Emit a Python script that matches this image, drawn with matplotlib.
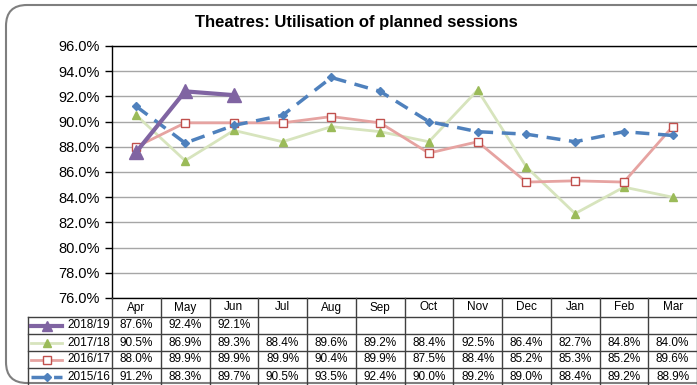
import matplotlib
matplotlib.use("Agg")
import matplotlib.pyplot as plt
from matplotlib.patches import FancyBboxPatch
from matplotlib.lines import Line2D
import matplotlib.transforms as mtransforms

months = ["Apr", "May", "Jun", "Jul", "Aug", "Sep", "Oct", "Nov", "Dec", "Jan", "Feb", "Mar"]
fy_2018_19 = [87.6, 92.4, 92.1]
fy_2017_18 = [90.5, 86.9, 89.3, 88.4, 89.6, 89.2, 88.4, 92.5, 86.4, 82.7, 84.8, 84.0]
fy_2016_17 = [88.0, 89.9, 89.9, 89.9, 90.4, 89.9, 87.5, 88.4, 85.2, 85.3, 85.2, 89.6]
fy_2015_16 = [91.2, 88.3, 89.7, 90.5, 93.5, 92.4, 90.0, 89.2, 89.0, 88.4, 89.2, 88.9]
series_names = ["2018/19", "2017/18", "2016/17", "2015/16"]
yticks = [76, 78, 80, 82, 84, 86, 88, 90, 92, 94, 96]

W, H = 697, 385
fig = plt.figure(figsize=(W / 100, H / 100), dpi=100)
plt.rcParams["font.family"] = ["Liberation Sans", "DejaVu Sans"]

def fx(px):
    return px / W

def fy(py):
    return 1 - py / H

# rounded chart frame
frame = FancyBboxPatch((fx(6), fy(383)), fx(760) - fx(6), fy(5) - fy(383),
                       boxstyle="round,pad=0,rounding_size=0.03",
                       transform=fig.transFigure, fill=False,
                       edgecolor="#7f7f7f", linewidth=1.5, mutation_aspect=W / H)
fig.patches.append(frame)

ax_left, ax_top, ax_bottom = 112, 46, 298
ax = fig.add_axes([fx(ax_left), fy(ax_bottom), 1 - fx(ax_left), fy(ax_top) - fy(ax_bottom)])
x = list(range(len(months)))

styles = {
    "2017/18": dict(color="#d7e4bd", lw=2, marker="^", ms=6, mfc="#9bbb59", mec="#9bbb59", ls="-"),
    "2016/17": dict(color="#e6a3a1", lw=2, marker="s", ms=6, mfc="white", mec="#c0504d", mew=1, ls="-"),
    "2015/16": dict(color="#4f81bd", lw=2.5, marker="D", ms=4, mfc="#4f81bd", mec="#4f81bd", ls=(0, (4, 2.5))),
    "2018/19": dict(color="#8064a2", lw=3, marker="^", ms=10, mfc="#8064a2", mec="#8064a2", ls="-"),
}
data = {"2018/19": fy_2018_19, "2017/18": fy_2017_18, "2016/17": fy_2016_17, "2015/16": fy_2015_16}

for name in ["2017/18", "2016/17", "2015/16", "2018/19"]:
    vals = data[name]
    st = styles[name]
    ax.plot(x[:len(vals)], vals, color=st["color"], lw=st["lw"], ls=st["ls"],
            marker=st["marker"], ms=st["ms"], mfc=st["mfc"], mec=st["mec"],
            mew=st.get("mew", 1), zorder=3)

ax.set_xlim(-0.5, len(months) - 0.5)
ax.set_ylim(76, 96)
ax.set_yticks(yticks)
ax.set_yticklabels([f"{v:.1f}%" for v in yticks], fontsize=10.5)
ax.tick_params(axis="y", length=5, width=1, color="black", pad=4)
ax.set_xticks([])
ax.grid(axis="y", color="#a6a6a6", lw=1)
ax.set_axisbelow(True)
for s in ax.spines.values():
    s.set_color("black")
    s.set_linewidth(1)
ax.spines["right"].set_visible(False)

fig.text(fx(356), fy(22), "Theatres: Utilisation of planned sessions",
         ha="center", va="center", fontsize=12, fontweight="bold")

# data table underneath the plot
tr = mtransforms.blended_transform_factory(ax.transData, fig.transFigure)
row_edges = [298, 317, 334, 351, 368, 386]
label_left = 28
lc = "#404040"
tfs = 8.5
for i in range(len(months) + 1):
    fig.add_artist(Line2D([i - 0.5, i - 0.5], [fy(298), fy(386)], transform=tr, color=lc, lw=1))
fig.add_artist(Line2D([fx(label_left)] * 2, [fy(317), fy(386)], transform=fig.transFigure, color=lc, lw=1))
for ry in row_edges[1:-1]:
    fig.add_artist(Line2D([fx(label_left), 1], [fy(ry), fy(ry)], transform=fig.transFigure, color=lc, lw=1))

def row_center(r):
    return fy((row_edges[r] + row_edges[r + 1]) / 2)

for i, m in enumerate(months):
    fig.text(i, row_center(0), m, transform=tr, ha="center", va="center", fontsize=tfs)

for r, name in enumerate(series_names, start=1):
    vals = data[name]
    yc = row_center(r)
    for i, v in enumerate(vals):
        fig.text(i, yc, f"{v:.1f}%", transform=tr, ha="center", va="center", fontsize=tfs)
    st = styles[name]
    fig.add_artist(Line2D([fx(31), fx(62)], [yc, yc], transform=fig.transFigure,
                          color=st["color"], lw=st["lw"], ls=st["ls"]))
    fig.add_artist(Line2D([fx(47)], [yc], transform=fig.transFigure, marker=st["marker"],
                          ms=min(st["ms"], 7), mfc=st["mfc"], mec=st["mec"], mew=st.get("mew", 1), ls="none"))
    fig.text(fx(110), yc, name, ha="right", va="center", fontsize=tfs)

fig.savefig("out.png", dpi=100)
